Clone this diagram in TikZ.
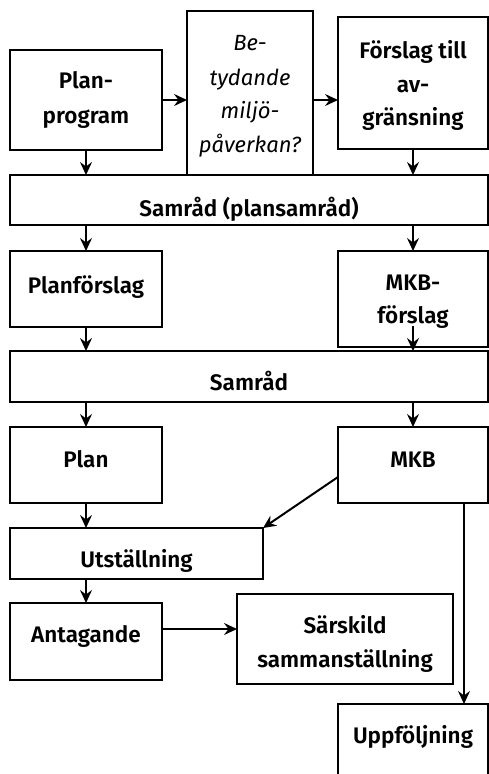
\documentclass[tikz,border=0pt]{standalone}
\usepackage{fontspec}
\IfFontExistsTF{Fira Sans SemiBold}
  {\setmainfont{Fira Sans}[BoldFont={Fira Sans SemiBold}]}
  {\setmainfont{Fira Sans}}
\usetikzlibrary{arrows.meta}
\begin{document}
\begin{tikzpicture}[x=1pt,y=-1pt,
  box/.style={draw,line width=2pt,inner sep=0pt,outer sep=0pt,rectangle},
  lbl/.style={anchor=base,inner sep=0pt,font=\fontsize{22.5}{26}\selectfont\bfseries},
  ilbl/.style={anchor=base,inner sep=0pt,font=\fontsize{22}{26}\selectfont\itshape},
  arr/.style={line width=2pt,-{Stealth[length=13pt,width=12pt,inset=4.5pt]}}]
\useasboundingbox (0,0) rectangle (489,774);
\clip (0,0) rectangle (489,774);
% boxes
\node[box,minimum width=152pt,minimum height=100pt] (pp) at (86,100) {};
\node[box,minimum width=126pt,minimum height=164pt] (bm) at (250,93) {};
\node[box,minimum width=150pt,minimum height=132pt] (fa) at (413,83) {};
\node[box,minimum width=478pt,minimum height=50pt] (s1) at (249,200) {};
\node[box,minimum width=152pt,minimum height=76pt] (pf) at (86,289) {};
\node[box,minimum width=150pt,minimum height=96pt] (mf) at (413,299) {};
\node[box,minimum width=478pt,minimum height=51pt] (s2) at (249,376.5) {};
\node[box,minimum width=152pt,minimum height=76pt] (pl) at (86,465) {};
\node[box,minimum width=150pt,minimum height=76pt] (mk) at (413,465) {};
\node[box,minimum width=253pt,minimum height=51pt] (ut) at (136.5,553.5) {};
\node[box,minimum width=152pt,minimum height=77pt] (an) at (86,641.5) {};
\node[box,minimum width=216pt,minimum height=90pt] (ss) at (345,639) {};
\node[box,minimum width=150pt,minimum height=100pt] (up) at (413,754) {};
% texts
\node[lbl] (t1a) at (86,88) {Plan-};
\node[lbl] (t1b) at (86,123) {program};
\node[ilbl] (t2a) at (250,50) {Be-};
\node[ilbl] (t2b) at (250,85) {tydande};
\node[ilbl] (t2c) at (250,118) {miljö-};
\node[ilbl] (t2d) at (250,152) {påverkan?};
\node[lbl] (t3a) at (413,58) {Förslag till};
\node[lbl] (t3b) at (413,92) {av-};
\node[lbl] (t3c) at (413,125) {gränsning};
\node[lbl] (t4) at (249,216) {Samråd (plansamråd)};
\node[lbl] (t5) at (86,293) {Planförslag};
\node[lbl] (t6a) at (413,290) {MKB-};
\node[lbl] (t6b) at (413,323) {förslag};
\node[lbl] (t7) at (249,390) {Samråd};
\node[lbl] (t8) at (86,467) {Plan};
\node[lbl] (t9) at (413,467) {MKB};
\node[lbl] (t10) at (136.5,567) {Utställning};
\node[lbl] (t11) at (86,642) {Antagande};
\node[lbl] (t12a) at (345,633) {Särskild};
\node[lbl] (t12b) at (345,667) {sammanställning};
\node[lbl] (t13) at (413,743) {Uppföljning};
% helper coordinates
\coordinate (mfa) at (413,326);
\coordinate (mkl) at (338,477);
\coordinate (ase) at (162,629);
\coordinate (mkb) at (464,503);
% connectors
\draw[arr] (pp.east) -- (pp.east -| bm.west);
\draw[arr] (bm.east |- pp.east) -- (fa.west |- pp.east);
\draw[arr] (pp.south) -- (pp.south |- s1.north);
\draw[arr] (fa.south) -- (fa.south |- s1.north);
\draw[arr] (pf.north |- s1.south) -- (pf.north);
\draw[arr] (mf.north |- s1.south) -- (mf.north);
\draw[arr] (pf.south) -- (pf.south |- s2.north);
\draw[arr] (mfa) -- (mfa |- s2.north);
\draw[arr] (pl.north |- s2.south) -- (pl.north);
\draw[arr] (mk.north |- s2.south) -- (mk.north);
\draw[arr] (pl.south) -- (pl.south |- ut.north);
\draw[arr] (mkl) -- (ut.north east);
\draw[arr] (an.north |- ut.south) -- (an.north);
\draw[arr] (ase) -- (ase -| ss.west);
\draw[arr] (mkb) -- (mkb |- up.north);
\end{tikzpicture}
\end{document}
